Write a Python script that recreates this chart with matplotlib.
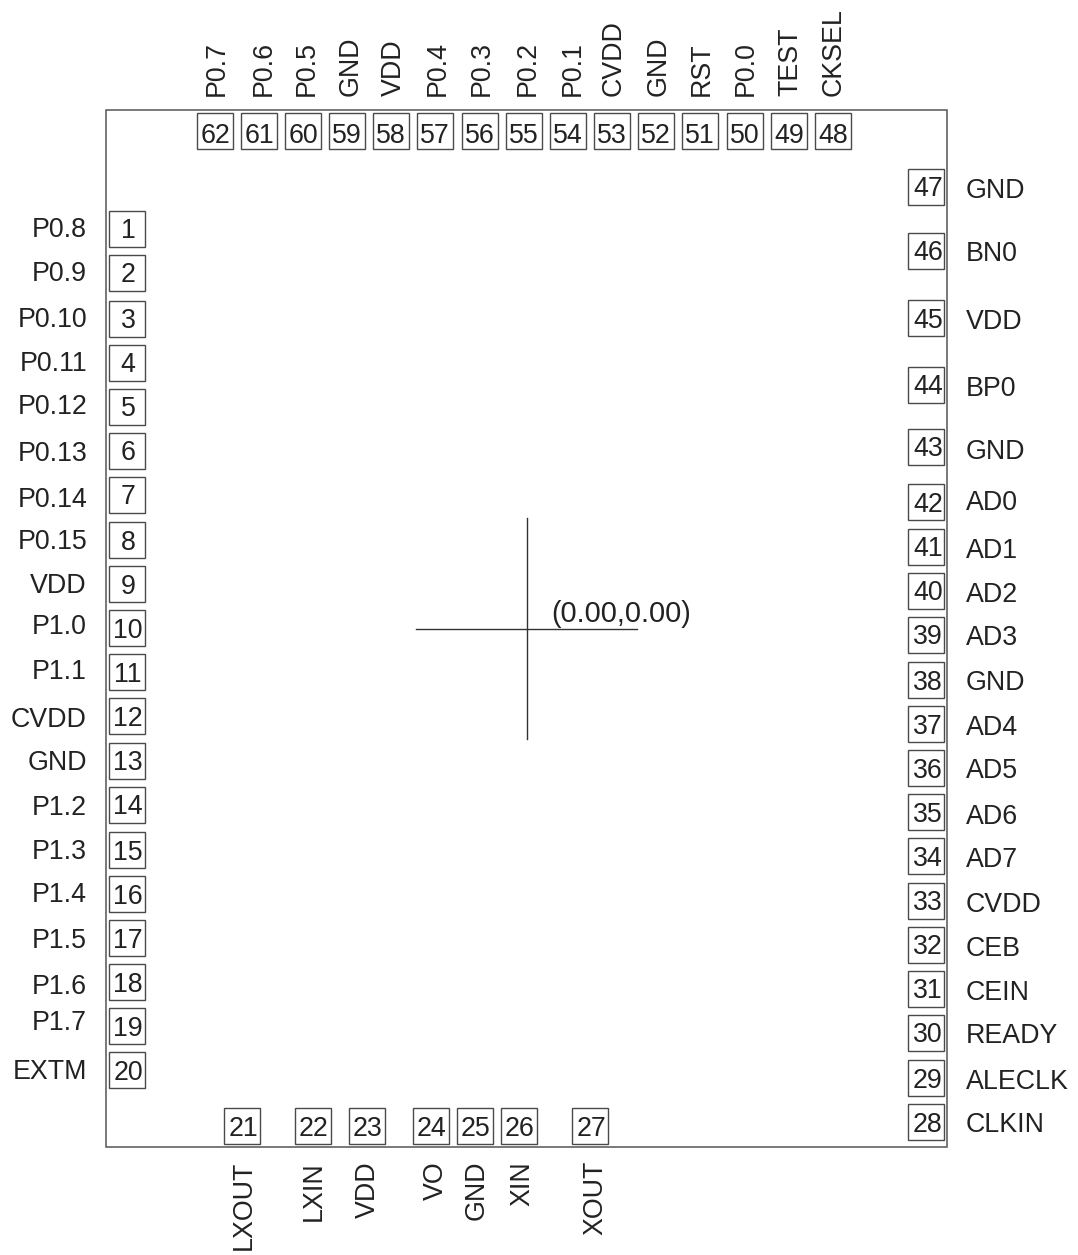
import matplotlib
matplotlib.use("Agg")
import matplotlib.pyplot as plt
from matplotlib.patches import Rectangle

plt.rcParams['font.family'] = ['Liberation Sans', 'DejaVu Sans']
W, H = 1078, 1255

left_pins = list(range(1, 21))
left_names = ["P0.8","P0.9","P0.10","P0.11","P0.12","P0.13","P0.14","P0.15","VDD","P1.0",
              "P1.1","CVDD","GND","P1.2","P1.3","P1.4","P1.5","P1.6","P1.7","EXTM"]
left_box_y = [229,273,319,363,407,451,495,540,584,628,672,716,761,805,850,894,938,982,1026,1070]
left_text_y = [228,272,318,362,405,452,498,540,584,625,670,718,761,806,850,893,939,985,1021,1070]

right_pins = list(range(47, 27, -1))
right_names = ["GND","BN0","VDD","BP0","GND","AD0","AD1","AD2","AD3","GND","AD4","AD5","AD6","AD7",
               "CVDD","CEB","CEIN","READY","ALECLK","CLKIN"]
right_box_y = [187,251,318,385,447,502,547,591,635,680,724,768,812,856,901,945,989,1033,1078,1122]
right_text_y = [189,252,320,387,450,501,549,593,636,681,726,769,815,858,903,947,991,1034,1080,1123]

top_pins = list(range(62, 47, -1))
top_names = ["P0.7","P0.6","P0.5","GND","VDD","P0.4","P0.3","P0.2","P0.1","CVDD","GND","RST","P0.0","TEST","CKSEL"]
top_box_x = [215,259,303,347,391,435,480,524,568,612,656,700,745,789,833]
top_text_x = [215,262,305,349,392,436,480,526,571,612,657,700,744,788,832]

bottom_pins = list(range(21, 28))
bottom_names = ["LXOUT","LXIN","VDD","VO","GND","XIN","XOUT"]
bottom_box_x = [242,313,367,431,475,519,590]
bottom_text_x = [242,312,366,434,475,520,593]

fig = plt.figure(figsize=(W/100, H/100), dpi=100)
ax = fig.add_axes([0, 0, 1, 1])
ax.set_xlim(0, W)
ax.set_ylim(H, 0)
ax.axis('off')

FS = 19.3
NFS = 19.3
TC = '#222222'
EC = '#4a4a4a'
S = 36

ax.add_patch(Rectangle((106, 110), 841, 1037, fill=False, ec='#555555', lw=1.1))

def pin(cx, cy, n, dx, dy):
    ax.add_patch(Rectangle((cx-S/2, cy-S/2), S, S, fill=False, ec=EC, lw=1.0))
    ax.text(cx+dx, cy+dy, str(n), ha='center', va='center', fontsize=NFS, color=TC)

for n, name, by, ty in zip(left_pins, left_names, left_box_y, left_text_y):
    pin(127, by, n, 1, 2.5)
    ax.text(87, ty+2, name, ha='right', va='center', fontsize=FS, color=TC)
for n, name, by, ty in zip(right_pins, right_names, right_box_y, right_text_y):
    pin(926, by, n, 2, 2.5)
    ax.text(966, ty+2, name, ha='left', va='center', fontsize=FS, color=TC)
for n, name, bx, tx in zip(top_pins, top_names, top_box_x, top_text_x):
    pin(bx, 131, n, 0, 5)
    ax.text(tx+2, 96, name, ha='center', va='bottom', rotation=90, fontsize=FS, color=TC)
for n, name, bx, tx in zip(bottom_pins, bottom_names, bottom_box_x, bottom_text_x):
    pin(bx, 1126, n, 1, 3.5)
    ax.text(tx+2, 1161, name, ha='center', va='top', rotation=90, fontsize=FS, color=TC)

ax.plot([416, 637], [629, 629], color='#333333', lw=1.0)
ax.plot([527, 527], [518, 739], color='#333333', lw=1.0)
ax.text(551, 614, "(0.00,0.00)", ha='left', va='center', fontsize=FS+1.5, color=TC)

fig.savefig("out.png", dpi=100)
